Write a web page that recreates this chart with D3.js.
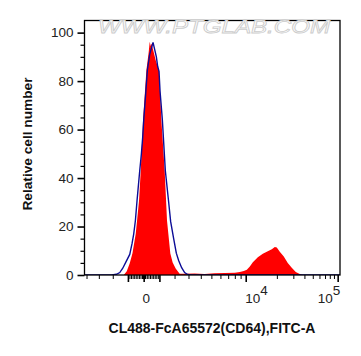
<!DOCTYPE html>
<html>
<head>
<meta charset="utf-8">
<script src="https://cdn.jsdelivr.net/npm/d3@7"></script>
<style>
  html, body { margin: 0; padding: 0; background: #fff; }
  svg { display: block; }
</style>
</head>
<body>
<svg id="chart" width="361" height="356"></svg>
<script>
// ---------- data (x in display channels 0..1024, y in % of max) ----------
const sampleChannel = [162, 274, 280, 289, 298, 306, 316, 320, 326, 331, 338, 348, 355, 358, 361, 364, 368, 376, 386, 393, 403, 410, 414, 420, 427, 436, 448, 463, 493, 523, 553, 584, 614, 629, 641, 650, 659, 668, 683, 698, 713, 725, 734, 740, 749, 761, 773, 785, 797, 809, 818, 930];
const sampleCount   = [0, 0, 0, 1.5, 4.8, 8.9, 17, 22.5, 30.8, 43, 64, 84.5, 92, 96.2, 94.5, 95.5, 93, 88.6, 84.5, 64, 43, 22.5, 17, 8.9, 5.2, 2.7, 0.5, 0.5, 0.6, 0.4, 0.7, 0.8, 0.9, 1.2, 1.6, 2.2, 3.5, 5.3, 7.3, 8.8, 9.8, 10.6, 11.6, 11.3, 9.6, 7.6, 5.0, 3.0, 1.2, 0.4, 0, 0];

const controlChannel = [162, 244, 258, 268, 277, 287, 298, 305, 310, 315, 320, 328, 333, 337, 340, 346, 351, 358, 364, 368, 373, 378, 382, 386, 389, 396, 405, 415, 421, 430, 438, 445, 454, 463, 472, 484, 930];
const controlCount   = [0, 0, 0.3, 1, 2.8, 5.5, 8.5, 13, 17, 22.5, 30.8, 43, 50, 57, 64, 75, 84.5, 91, 94, 96, 93, 90, 86, 84, 76, 64, 43, 30, 22, 15, 9, 6, 3, 1, 0.2, 0, 0];

const xMajorTicks = [-1000, 0, 1000, 10000, 100000];
const xLabelTicks = [0, 10000, 100000];
const yMajorTicks = [0, 20, 40, 60, 80, 100];
const yMinorTicks = [5, 10, 15, 25, 30, 35, 45, 50, 55, 65, 70, 75, 85, 90, 95];

const xTitle = "CL488-FcA65572(CD64),FITC-A";
const yTitle = "Relative cell number";
const watermark = "WWW.PTGLAB.COM";

// ---------- logicle transform (value -> display 0..1) ----------
function makeLogicle(T, W, M, A) {
  const w = W / M, x2 = A / M, x1 = x2 + w, x0 = x2 + 2 * w, b = (M + A) * Math.LN10;
  let lo = 1e-9, hi = b;
  for (let i = 0; i < 200; i++) {
    const d = (lo + hi) / 2;
    const fd = 2 * (Math.log(d) - Math.log(b)) + w * (b + d);
    if (fd < 0) lo = d; else hi = d;
  }
  const d = (lo + hi) / 2;
  const ca = Math.exp(x0 * (b + d));
  const mfa = Math.exp(b * x1) - ca / Math.exp(d * x1);
  const a = T / ((Math.exp(b) - mfa) - ca / Math.exp(d));
  const c = ca * a, f = -mfa * a;
  function S(yv) {
    const neg = yv < x1;
    const yy = neg ? 2 * x1 - yv : yv;
    const v = a * Math.exp(b * yy) + f - c * Math.exp(-d * yy);
    return neg ? -v : v;
  }
  return function (value) {
    let l = -1, h = 1.5;
    for (let i = 0; i < 200; i++) {
      const m = (l + h) / 2;
      if (S(m) < value) l = m; else h = m;
    }
    return (l + h) / 2;
  };
}
const logicle = makeLogicle(262144, 1.5, 4.5, 0);
const toChannel = v => logicle(v) * 1024;

// ---------- layout ----------
const svg = d3.select("#chart");
const plotL = 84.5, plotR = 340, plotT = 20.5, plotB = 275;

const x = d3.scaleLinear().domain([162, 930]).range([plotL, plotR]);
const y = d3.scaleLinear().domain([0, 105]).range([plotB, plotT]);

const plot = svg.append("g");
plot.append("clipPath").attr("id", "clip")
  .append("rect").attr("x", plotL).attr("y", plotT).attr("width", plotR - plotL).attr("height", plotB - plotT);

// red filled sample histogram
const sample = sampleChannel.map((c, i) => [c, sampleCount[i]]);
plot.append("path")
  .datum(sample)
  .attr("clip-path", "url(#clip)")
  .attr("fill", "#ff0000")
  .attr("stroke", "none")
  .attr("d", d3.area().x(d => x(d[0])).y0(y(0)).y1(d => y(d[1])));

// blue control line
const control = controlChannel.map((c, i) => [c, controlCount[i]]);
plot.append("path")
  .datum(control)
  .attr("clip-path", "url(#clip)")
  .attr("fill", "none")
  .attr("stroke", "#0c0c96")
  .attr("stroke-width", 1.4)
  .attr("d", d3.line().x(d => x(d[0])).y(d => y(d[1])));

// frame
svg.append("rect")
  .attr("x", plotL).attr("y", plotT).attr("width", plotR - plotL).attr("height", plotB - plotT)
  .attr("fill", "none").attr("stroke", "#000").attr("stroke-width", 1.3);

// ---------- y axis ----------
const yAxisMajor = d3.axisLeft(y).tickValues(yMajorTicks).tickSize(7).tickPadding(4).tickFormat(d3.format("d"));
const yAxisMinor = d3.axisLeft(y).tickValues(yMinorTicks).tickSize(4).tickFormat("");
const gyMinor = svg.append("g").attr("transform", `translate(${plotL},0)`).call(yAxisMinor);
const gy = svg.append("g").attr("transform", `translate(${plotL},0)`).call(yAxisMajor);
[gy, gyMinor].forEach(g => {
  g.select(".domain").remove();
  g.selectAll(".tick line").attr("stroke", "#000").attr("stroke-width", 1.2);
});
gy.selectAll(".tick line").attr("stroke-width", 1.6);
gy.selectAll(".tick text")
  .attr("font-family", "Liberation Sans, Arial, sans-serif")
  .attr("font-size", 13.5)
  .attr("fill", "#222");

// ---------- x axis (logicle ticks) ----------
const [dMin, dMax] = x.domain();
const minorVals = [];
[1, 2, 3, 4].forEach(k => {
  for (let m = 1; m <= 9; m++) {
    const v = m * Math.pow(10, k);
    if (xMajorTicks.indexOf(v) < 0) minorVals.push(v);
    if (k <= 3 && xMajorTicks.indexOf(-v) < 0) minorVals.push(-v);
  }
});
const inDomain = v => { const c = toChannel(v); return c > dMin + 3 && c <= dMax; };
const gx = svg.append("g");
gx.selectAll("line.minor").data(minorVals.filter(inDomain)).join("line")
  .attr("class", "minor")
  .attr("x1", d => x(toChannel(d))).attr("x2", d => x(toChannel(d)))
  .attr("y1", plotB).attr("y2", plotB + 4)
  .attr("stroke", "#000").attr("stroke-width", 1);
gx.selectAll("line.major").data(xMajorTicks.filter(inDomain)).join("line")
  .attr("class", "major")
  .attr("x1", d => x(toChannel(d))).attr("x2", d => x(toChannel(d)))
  .attr("y1", plotB).attr("y2", plotB + 7)
  .attr("stroke", "#000").attr("stroke-width", 1.6);

const labelFont = "Liberation Sans, Arial, sans-serif";
xLabelTicks.forEach(v => {
  const px = x(toChannel(v));
  const t = gx.append("text")
    .attr("y", 303)
    .attr("font-family", labelFont)
    .attr("font-size", 13.5)
    .attr("fill", "#222");
  if (v === 0) {
    t.attr("x", px + 2).attr("text-anchor", "middle").text("0");
  } else {
    const exp = Math.round(Math.log10(v));
    if (v === 100000) t.attr("x", px + 2).attr("text-anchor", "end");
    else t.attr("x", px - 1).attr("text-anchor", "start");
    t.append("tspan").text("10");
    t.append("tspan").attr("dy", -8).text(String(exp));
  }
});

// ---------- titles ----------
svg.append("text")
  .attr("x", 212).attr("y", 333)
  .attr("text-anchor", "middle")
  .attr("font-family", labelFont)
  .attr("font-weight", "bold")
  .attr("font-size", 14)
  .attr("fill", "#111")
  .text(xTitle);

svg.append("text")
  .attr("transform", "translate(32,144) rotate(-90)")
  .attr("text-anchor", "middle")
  .attr("font-family", labelFont)
  .attr("font-weight", "bold")
  .attr("font-size", 13.7)
  .attr("fill", "#111")
  .text(yTitle);

// ---------- watermark ----------
svg.append("text")
  .attr("x", 98).attr("y", 33)
  .attr("textLength", 232)
  .attr("lengthAdjust", "spacingAndGlyphs")
  .attr("font-family", labelFont)
  .attr("font-size", 19)
  .attr("font-style", "italic")
  .attr("fill", "#ffffff")
  .attr("stroke", "#cccccc")
  .attr("stroke-width", 0.8)
  .text(watermark);
</script>
</body>
</html>
